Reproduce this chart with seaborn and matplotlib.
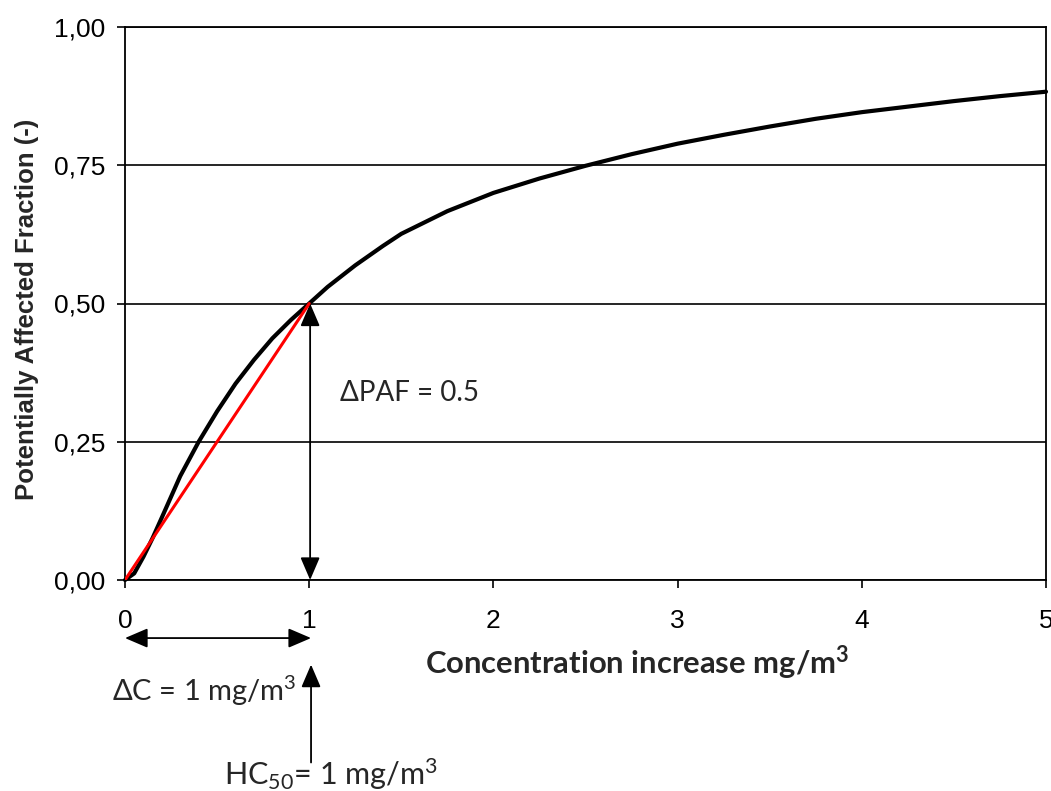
import numpy as np
import pandas as pd
import seaborn as sns
import matplotlib
matplotlib.use("Agg")
import matplotlib.pyplot as plt

# ---- data ----
conc = [0.0, 0.05, 0.1, 0.15, 0.2, 0.3, 0.4, 0.5, 0.6, 0.7, 0.8, 0.9, 1.0,
        1.1, 1.25, 1.4, 1.5, 1.75, 2.0, 2.25, 2.5, 2.75, 3.0, 3.25, 3.5,
        3.75, 4.0, 4.25, 4.5, 4.75, 5.0]
paf = [0.0, 0.012, 0.042, 0.076, 0.113, 0.188, 0.250, 0.305, 0.355, 0.398,
       0.437, 0.470, 0.500, 0.530, 0.569, 0.604, 0.626, 0.667, 0.700, 0.726,
       0.749, 0.770, 0.789, 0.805, 0.820, 0.834, 0.846, 0.856, 0.866, 0.875,
       0.883]
secant_x = [0.0, 1.0]
secant_y = [0.0, 0.5]
xticks = [0, 1, 2, 3, 4, 5]
yticks = [0.0, 0.25, 0.5, 0.75, 1.0]
ytick_labels = ["0,00", "0,25", "0,50", "0,75", "1,00"]

sns.set_style("white")
plt.rcParams["font.family"] = ["Liberation Sans", "DejaVu Sans"]
plt.rcParams["mathtext.fontset"] = "custom"
plt.rcParams["mathtext.rm"] = "Lato"
plt.rcParams["mathtext.it"] = "Lato:italic"
plt.rcParams["mathtext.bf"] = "Lato:bold"

fig = plt.figure(figsize=(10.51, 7.91), dpi=100)
ax = fig.add_axes([125 / 1051, 1 - 580 / 791, 921 / 1051, 553 / 791])

df_curve = pd.DataFrame({"C": conc, "PAF": paf})
df_sec = pd.DataFrame({"C": secant_x, "PAF": secant_y})
sns.lineplot(data=df_curve, x="C", y="PAF", ax=ax, color="black", lw=3.0,
             zorder=3, clip_on=False)
sns.lineplot(data=df_sec, x="C", y="PAF", ax=ax, color="#ff0000", lw=2.2,
             zorder=4)

ax.set_xlim(0, 5)
ax.set_ylim(0, 1)
ax.set_xticks(xticks)
ax.set_xticklabels([str(t) for t in xticks])
ax.set_yticks(yticks)
ax.set_yticklabels(ytick_labels)
ax.yaxis.grid(True, color="black", lw=1.2)
ax.xaxis.grid(False)
for s in ax.spines.values():
    s.set_visible(True)
    s.set_color("black")
    s.set_linewidth(1.3)
ax.tick_params(axis="x", direction="out", length=6, width=1.2, pad=15,
               labelsize=19, colors="black", bottom=True)
ax.tick_params(axis="y", direction="out", length=6, width=1.2, pad=8,
               labelsize=19, colors="black", left=True)
ax.set_xlabel("")
ax.set_ylabel("")

# y label
fig.text(27 / 1051, 1 - 309 / 791, "Potentially Affected Fraction (-)",
         rotation=90, ha="center", va="center", fontsize=18.5,
         fontweight="bold", family=["Liberation Sans", "DejaVu Sans"])
# x label
ax.text(2.78, -0.15, r"Concentration increase mg/m$^\mathbf{3}$",
        ha="center", va="center", fontsize=22.3, fontweight="bold",
        family=["Lato", "DejaVu Sans"], clip_on=False)

arrow_kw = dict(arrowstyle="<|-|>,head_length=0.7,head_width=0.3",
                color="black", lw=1.3, shrinkA=0, shrinkB=0,
                mutation_scale=20)
# vertical double arrow
ax.annotate("", xy=(1.005, 0.0), xytext=(1.005, 0.5), arrowprops=arrow_kw,
            annotation_clip=False)
# horizontal double arrow below the axis
ax.annotate("", xy=(0.0, -0.105), xytext=(1.01, -0.105), arrowprops=arrow_kw,
            annotation_clip=False)
# upward arrow from HC50 label
ax.annotate("", xy=(1.01, -0.153), xytext=(1.01, -0.33),
            arrowprops=dict(arrowstyle="-|>,head_length=0.7,head_width=0.3",
                            color="black", lw=1.3, shrinkA=0, shrinkB=0,
                            mutation_scale=20),
            annotation_clip=False)

ann_font = ["Lato", "DejaVu Sans"]
ax.text(1.165, 0.338, "ΔPAF = 0.5", ha="left", va="center", fontsize=20,
        family=ann_font)
ax.text(-0.07, -0.2, r"ΔC = 1 mg/m$^3$", ha="left", va="center",
        fontsize=21, family=ann_font, clip_on=False)
ax.text(0.54, -0.352, r"HC$_{50}$= 1 mg/m$^3$", ha="left", va="center",
        fontsize=22, family=ann_font, clip_on=False)

fig.savefig("out.png", dpi=100)
